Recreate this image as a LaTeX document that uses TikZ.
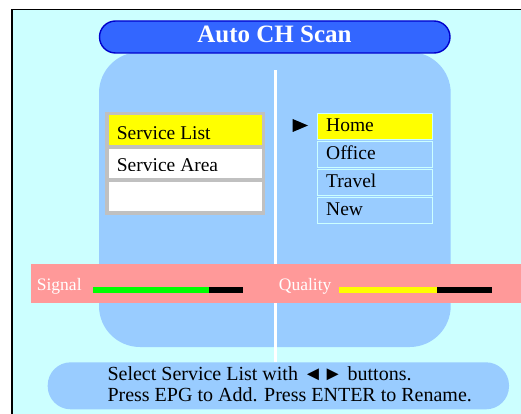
\documentclass[tikz,border=0pt]{standalone}
\usepackage{fontspec}
\setmainfont{Liberation Serif}
\definecolor{bgcyan}{HTML}{CCFFFF}
\definecolor{titleblue}{HTML}{3366FF}
\definecolor{titleedge}{HTML}{0000CC}
\definecolor{panelblue}{HTML}{99CCFF}
\definecolor{selyellow}{HTML}{FFFF00}
\definecolor{framegray}{HTML}{C0C0C0}
\definecolor{barpink}{HTML}{FF9999}
\definecolor{bargreen}{HTML}{00FF00}
\tikzset{
  celltext/.style={anchor=base west, inner sep=0pt, font=\fontsize{19.5}{22}\selectfont, text=black},
  bartext/.style={anchor=base west, inner sep=0pt, font=\fontsize{17.5}{20}\selectfont, text=white},
  helptext/.style={anchor=base west, inner sep=0pt, font=\fontsize{20}{23}\selectfont, text=black},
  listcell/.style={draw=bgcyan, line width=1.3pt},
}
\begin{document}
\begin{tikzpicture}[x=1pt,y=-1pt]
\useasboundingbox (0,0) rectangle (521,414);
\fill[white] (0,0) rectangle (521,414);
% screen background and frame
\fill[bgcyan] (12,9.5) rectangle (521,414);
\draw[black, line width=1.6pt] (12,414) -- (12,9.5) -- (521,9.5);
% main panel
\fill[panelblue, rounded corners=41pt] (99,52) rectangle (450.7,347);
% vertical divider
\fill[white] (273.5,70) rectangle (276.5,362);
% title pill
\draw[fill=titleblue, draw=titleedge, line width=1.4pt, rounded corners=16pt] (99.5,21) rectangle (450,53);
\node[anchor=base, inner sep=0pt, text=white, font=\bfseries\fontsize{25}{28}\selectfont] (title) at (274.5,42.5) {Auto CH Scan};
% left menu
\fill[framegray] (105,111.7) rectangle (265,215);
\fill[selyellow] (109.3,115) rectangle (261.7,145);
\fill[white] (109.3,149) rectangle (261.7,177.7);
\fill[white] (109.3,181.7) rectangle (261.7,211);
\node[celltext] (slist) at (116.7,139.2) {Service List};
\begin{scope}
\clip (109.3,149) rectangle (261.7,170.8);
\node[celltext] (sarea) at (116.7,171.6) {Service Area};
\end{scope}
% right list
\fill[black] (292.7,119) -- (308,125.5) -- (292.7,132) -- cycle;
\draw[listcell, fill=selyellow] (317.2,113.2) rectangle (432.4,139.4);
\draw[listcell, fill=panelblue] (317.2,141.2) rectangle (432.4,167.4);
\draw[listcell, fill=panelblue] (317.2,169.2) rectangle (432.4,195.6);
\draw[listcell, fill=panelblue] (317.2,197.4) rectangle (432.4,223.6);
\node[celltext] (home) at (326,131.7) {Home};
\node[celltext] (office) at (326,159.6) {Office};
\node[celltext] (travel) at (326,187.6) {Travel};
\node[celltext] (new) at (326,215.6) {New};
% signal / quality bar
\fill[barpink] (31,264.3) rectangle (521,303.3);
\node[bartext] (signal) at (36.7,290.2) {Signal};
\fill[bargreen] (93.3,287.3) rectangle (209.3,292.7);
\fill[black] (209.3,287.3) rectangle (242.7,292.7);
\node[bartext] (quality) at (278.7,290.5) {Quality};
\fill[selyellow] (339.3,287.3) rectangle (436.7,292.7);
\fill[black] (436.7,287.3) rectangle (492,292.7);
% help pill
\fill[panelblue, rounded corners=23pt] (47.7,362.3) rectangle (509,409.3);
\node[helptext] (help1) at (107.3,380) {Select Service List with ◄► buttons.};
\node[helptext] (help2) at (107.3,401.7) {Press EPG to Add. Press ENTER to Rename.};
\end{tikzpicture}
\end{document}
